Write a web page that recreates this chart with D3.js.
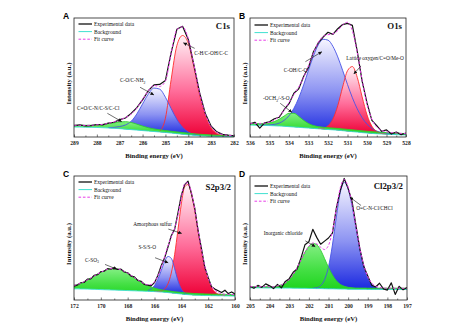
<!DOCTYPE html>
<html lang="en">
<head>
<meta charset="UTF-8">
<title>High-resolution XPS spectra</title>
<script src="https://d3js.org/d3.v7.min.js"></script>
<style>
  body { margin: 0; background: #fff; }
  svg { display: block; }
  text { font-family: "Liberation Serif", "Times New Roman", serif; fill: #111; }
  .panel-letter { font-family: "Liberation Sans", Arial, sans-serif; font-weight: bold; font-size: 8.5px; fill: #000; }
  .core-level { font-weight: bold; font-size: 8.8px; }
  .axis-title { font-weight: bold; font-size: 6.7px; }
  .legend text { font-size: 5.5px; }
  .note { font-size: 5.3px; }
  .x-axis text { font-family: "Liberation Serif", serif; font-size: 5.6px; font-weight: bold; fill: #222; }
  .x-axis line { stroke: #222; stroke-width: 0.6; }
  .x-axis path { display: none; }
  .frame { fill: none; stroke: #222; stroke-width: 0.8; }
</style>
</head>
<body>
<svg width="474" height="326"></svg>
<script>
// C 1s
const energyC1s = [289, 288.75, 288.5, 288.25, 288, 287.75, 287.5, 287.25, 287, 286.75, 286.5, 286.25, 286, 285.75, 285.5,
  285.25, 285, 284.75, 284.5, 284.25, 284, 283.75, 283.5, 283.25, 283, 282.75, 282.5, 282.25, 282];
const ticksC1s = [289, 288, 287, 286, 285, 284, 283, 282];
const expC1s = [9.6, 10.2, 9.4, 9.6, 10.5, 10.2, 11.6, 12.4, 14.6, 16.0, 19.8, 24.6, 31.2, 38.9, 43.8,
  44.2, 47.5, 70.9, 90.5, 93.0, 82.0, 60.2, 36.9, 19.5, 9.0, 4.3, 2.2, 1.5, 1.0];
const bgC1s = [8.4, 8.3, 8.2, 8.1, 8.0, 7.8, 7.6, 7.3, 7.0, 6.6, 6.2, 5.8, 5.4, 5.0, 4.6,
  4.2, 3.8, 3.3, 2.8, 2.3, 1.8, 1.4, 1.0, 0.8, 0.6, 0.5, 0.4, 0.35, 0.3];
const peakC1s_CC = [0, 0, 0, 0, 0, 0, 0, 0, 0, 0, 0, 0, 0, 0, 0,
  0.5, 12, 45, 74, 83, 77, 57, 34, 17, 7, 2.5, 0.8, 0.2, 0];
const peakC1s_CO = [0, 0, 0, 0, 0, 0, 0.3, 0.8, 1.8, 3.5, 7.0, 13.6, 22.4, 31.0, 36.5,
  36.0, 29.6, 20.6, 12.0, 5.9, 2.4, 0.8, 0.2, 0, 0, 0, 0, 0, 0];
const peakC1s_CN = [1.5, 1.5, 1.6, 1.8, 2.2, 2.8, 3.6, 4.6, 5.6, 6.3, 6.0, 5.0, 3.8, 2.8, 2.2,
  1.8, 1.6, 1.5, 1.5, 1.4, 1.4, 1.3, 1.3, 1.2, 1.1, 1.0, 0.9, 0.8, 0.8];

// O 1s
const energyO1s = [536, 535.75, 535.5, 535.25, 535, 534.75, 534.5, 534.25, 534, 533.75, 533.5, 533.25, 533, 532.75, 532.5,
  532.25, 532, 531.75, 531.5, 531.25, 531, 530.75, 530.5, 530.25, 530, 529.75, 529.5, 529.25, 529, 528.75, 528.5, 528.25, 528];
const ticksO1s = [536, 535, 534, 533, 532, 531, 530, 529, 528];
const expO1s = [11.0, 12.4, 7.5, 11.9, 12.8, 15.3, 16.6, 22.9, 28.0, 36.8, 40.6, 50.9, 58.5, 71.5, 79.0,
  84.0, 88.0, 86.2, 91.0, 94.5, 95.5, 93.8, 72.0, 47.0, 28.6, 14.0, 9.5, 4.8, 6.0, 2.5, 4.2, 2.0, 3.2];
const bgO1s = [10.0, 9.9, 9.8, 9.7, 9.6, 9.4, 9.2, 9.0, 8.7, 8.4, 8.1, 7.8, 7.5, 7.2, 6.9,
  6.6, 6.3, 6.0, 5.7, 5.3, 4.9, 4.5, 4.1, 3.7, 3.3, 3.0, 2.7, 2.5, 2.3, 2.1, 2.0, 1.8, 1.7];
const peakO1s_COH = [0, 0, 0.1, 0.2, 0.5, 1.2, 2.5, 5.0, 9.2, 15.7, 24.7, 36.0, 48.7, 60.8, 70.5,
  75.5, 75.1, 70.2, 61.6, 50.7, 39.2, 28.5, 19.5, 12.5, 7.5, 4.3, 2.3, 1.2, 0.6, 0.3, 0.1, 0, 0];
const peakO1s_lattice = [0, 0, 0, 0, 0, 0, 0, 0, 0, 0, 0, 0, 0, 0, 0.2,
  0.8, 3.1, 9.0, 20.6, 36.7, 50.8, 54.7, 46.0, 30.0, 15.3, 6.1, 1.9, 0.4, 0.1, 0, 0, 0, 0];
const peakO1s_OCH3 = [1.5, 1.5, 1.5, 1.7, 2.3, 3.6, 5.8, 8.6, 11.2, 11.5, 9.2, 6.2, 3.8, 2.4, 1.8,
  1.6, 1.5, 1.5, 1.5, 1.5, 1.5, 1.5, 1.5, 1.5, 1.5, 1.5, 1.5, 1.4, 1.4, 1.3, 1.3, 1.2, 1.2];

// S 2p3/2
const energyS2p = [172, 171.75, 171.5, 171.25, 171, 170.75, 170.5, 170.25, 170, 169.75,
  169.5, 169.25, 169, 168.75, 168.5, 168.25, 168, 167.75, 167.5, 167.25,
  167, 166.75, 166.5, 166.25, 166, 165.75, 165.5, 165.25, 165, 164.75,
  164.5, 164.25, 164, 163.75, 163.5, 163.25, 163, 162.75, 162.5, 162.25,
  162, 161.75, 161.5, 161.25, 161, 160.75, 160.5, 160.25, 160];
const ticksS2p = [172, 170, 168, 166, 164, 162, 160];
const expS2p = [11.2, 12.0, 13.9, 14.1, 16.8, 17.1, 19.9, 20.4, 22.9, 23.2,
  25.3, 24.8, 26.1, 24.6, 24.9, 22.6, 22.0, 19.3, 18.6, 15.8,
  15.1, 12.5, 12.0, 11.4, 14.0, 19.8, 27.6, 33.8, 42.5, 51.8,
  57.0, 70.2, 84.5, 93.0, 95.8, 86.0, 74.1, 56.0, 41.5, 26.4,
  18.2, 10.7, 8.8, 7.5, 6.1, 7.9, 5.2, 6.5, 4.8];
const bgS2p = [9.0, 9.0, 8.9, 8.9, 8.8, 8.7, 8.6, 8.5, 8.4, 8.3,
  8.2, 8.1, 8.0, 7.9, 7.8, 7.7, 7.6, 7.5, 7.4, 7.3,
  7.2, 7.1, 7.0, 6.9, 6.8, 6.6, 6.4, 6.2, 6.0, 5.7,
  5.4, 5.1, 4.8, 4.5, 4.3, 4.1, 3.9, 3.8, 3.7, 3.6,
  3.6, 3.5, 3.5, 3.4, 3.4, 3.3, 3.3, 3.2, 3.2];
const peakS2p_amorphous = [0, 0, 0, 0, 0, 0, 0, 0, 0, 0,
  0, 0, 0, 0, 0, 0, 0, 0, 0, 0,
  0, 0, 0, 0, 0.1, 0.3, 0.8, 2.6, 7.0, 16.0,
  31.2, 51.6, 72.7, 86.9, 88.8, 81.5, 68.0, 51.6, 35.6, 22.3,
  12.7, 6.6, 3.1, 1.3, 0.5, 0.2, 0, 0, 0];
const peakS2p_SSO = [0, 0, 0, 0, 0, 0, 0, 0, 0, 0,
  0, 0, 0, 0, 0, 0, 0, 0, 0, 0,
  0, 0, 0.7, 2.0, 4.9, 10.1, 17.3, 24.6, 29.1, 27.9,
  19.9, 10.4, 4.0, 1.1, 0.2, 0, 0, 0, 0, 0,
  0, 0, 0, 0, 0, 0, 0, 0, 0];
const peakS2p_CSO3 = [2.8, 3.6, 4.6, 5.9, 7.4, 9.0, 10.7, 12.4, 14.0, 15.4,
  16.5, 17.2, 17.4, 17.2, 16.5, 15.4, 14.0, 12.4, 10.7, 9.0,
  7.4, 5.9, 4.6, 3.6, 2.8, 2.2, 1.8, 1.5, 1.4, 1.3,
  1.3, 1.3, 1.3, 1.3, 1.3, 1.3, 1.3, 1.3, 1.3, 1.3,
  1.2, 1.2, 1.2, 1.2, 1.2, 1.2, 1.2, 1.2, 1.2];

// Cl 2p3/2
const energyCl2p = [205, 204.8, 204.6, 204.4, 204.2, 204, 203.8, 203.6, 203.4, 203.2,
  203, 202.8, 202.6, 202.4, 202.2, 202, 201.8, 201.6, 201.4, 201.2,
  201, 200.8, 200.6, 200.4, 200.2, 200, 199.8, 199.6, 199.4, 199.2,
  199, 198.8, 198.6, 198.4, 198.2, 198, 197.8, 197.6, 197.4, 197.2, 197];
const ticksCl2p = [205, 204, 203, 202, 201, 200, 199, 198, 197];
const expCl2p = [11.1, 9.4, 11.8, 10.2, 13.0, 11.4, 9.2, 12.6, 9.8, 15.0,
  17.2, 22.4, 25.0, 34.0, 44.5, 47.0, 57.0, 50.5, 45.0, 47.5,
  50.0, 54.0, 74.0, 88.5, 98.0, 90.0, 79.5, 60.0, 41.0, 27.0,
  19.3, 12.0, 10.5, 13.5, 9.0, 8.0, 13.8, 4.5, 11.0, 8.2, 10.0];
const bgCl2p = [9.8, 9.8, 9.8, 9.8, 9.7, 9.7, 9.7, 9.7, 9.6, 9.6,
  9.6, 9.5, 9.5, 9.4, 9.4, 9.3, 9.3, 9.2, 9.2, 9.1,
  9.0, 9.0, 8.9, 8.8, 8.8, 8.7, 8.7, 8.6, 8.6, 8.6,
  8.5, 8.5, 8.5, 8.5, 8.5, 8.5, 8.5, 8.5, 8.5, 8.5, 8.5];
const peakCl2p_organic = [0, 0, 0, 0, 0, 0, 0, 0, 0, 0,
  0, 0, 0, 0, 0, 0, 0.2, 0.7, 2.4, 7.3,
  17.7, 35.3, 58.0, 77.9, 86.0, 80.9, 67.2, 49.4, 32.1, 18.5,
  9.3, 4.2, 1.7, 0.6, 0.2, 0, 0, 0, 0, 0, 0];
const peakCl2p_inorganic = [1.0, 1.0, 1.0, 1.0, 1.0, 1.0, 1.0, 1.7, 2.6, 4.2,
  6.9, 11.0, 16.5, 22.9, 29.1, 34.0, 36.4, 35.4, 31.0, 24.3,
  17.3, 11.2, 6.6, 3.8, 2.3, 1.5, 1.2, 1.0, 1.0, 1.0,
  1.0, 1.0, 1.0, 1.0, 1.0, 1.0, 1.0, 1.0, 1.0, 1.0, 1.0];

const legendLabels = ["Experimental data", "Background", "Fit curve"];

const colors = {
  measured: "#111",
  background: "#3fe0d0",
  fit: "#e83ce8",
  red:   { top: "#fff4f8", mid: "#ff6d9a", bottom: "#ee0036", stroke: "#ff2d2d" },
  blue:  { top: "#f6f5ff", mid: "#8c93f2", bottom: "#1a28e0", stroke: "#4652e6" },
  green: { top: "#84ef84", mid: "#46e046", bottom: "#1ed41e", stroke: "#2fcf2f" }
};

// annotation text anchors and arrow ends, in (eV, intensity)
const notesC1s = [
  { parts: ["C-H/C-OH/C-C"], at: [283.74, 68.9], from: [283.72, 74.5], to: [284.22, 79.2] },
  { parts: ["C-O/C-NH", { sub: "2" }], at: [286.99, 46], from: [286.11, 41.8], to: [285.5, 35.3] },
  { parts: ["C=O/C-N/C-S/C-Cl"], at: [288.87, 22.3], from: [287.54, 19.9], to: [286.91, 12.9] }
];
const notesO1s = [
  { parts: ["C-OH/C-O"], at: [534.27, 54.6], from: [533.16, 63.3], to: [532.31, 71.7] },
  { parts: ["Lattice oxygen/C=O/Me-O"], at: [531.06, 65], from: [530.31, 59.7], to: [530.68, 52.9] },
  { parts: ["-OCH", { sub: "3" }, "/-S-O"], at: [535.33, 30.7], from: [534.45, 28.3], to: [533.85, 20.7] }
];
const notesS2p = [
  { parts: ["Amorphous sulfur"], at: [167.58, 60], from: [164.97, 57.2], to: [163.97, 53.7] },
  { parts: ["S-S/S-O"], at: [167.2, 41.5], from: [165.96, 34.1], to: [164.97, 30] },
  { parts: ["C-SO", { sub: "3" }], at: [171.18, 30.9], from: [169.69, 28.7], to: [168.8, 24.8] }
];
const notesCl2p = [
  { parts: ["O=C-N-Cl/CHCl"], at: [199.59, 72.4], from: [199.34, 76.2], to: [199.91, 82.9] },
  { parts: ["Inorganic chloride"], at: [204.3, 52.8], from: [202.18, 47.7], to: [201.67, 43] }
];

const panels = [
  { letter: "A", level: "C1s", box: { l: 74, r: 234, t: 18, b: 137 },
    energy: energyC1s, ticks: ticksC1s, measured: expC1s, background: bgC1s,
    peaks: [{ values: peakC1s_CC, color: "red" }, { values: peakC1s_CO, color: "blue" }, { values: peakC1s_CN, color: "green" }],
    notes: notesC1s, levelDy: 10.5, legendDy: 6 },
  { letter: "B", level: "O1s", box: { l: 250, r: 406, t: 18, b: 137 },
    energy: energyO1s, ticks: ticksO1s, measured: expO1s, background: bgO1s,
    peaks: [{ values: peakO1s_COH, color: "blue" }, { values: peakO1s_lattice, color: "red" }, { values: peakO1s_OCH3, color: "green" }],
    notes: notesO1s, levelDy: 10.5, legendDy: 7 },
  { letter: "C", level: "S2p3/2", box: { l: 74, r: 235, t: 176, b: 300 },
    energy: energyS2p, ticks: ticksS2p, measured: expS2p, background: bgS2p,
    peaks: [{ values: peakS2p_amorphous, color: "red" }, { values: peakS2p_SSO, color: "blue" }, { values: peakS2p_CSO3, color: "green" }],
    notes: notesS2p, levelDy: 14, legendDy: 6 },
  { letter: "D", level: "Cl2p3/2", box: { l: 250, r: 407, t: 176, b: 300 },
    energy: energyCl2p, ticks: ticksCl2p, measured: expCl2p, background: bgCl2p,
    peaks: [{ values: peakCl2p_organic, color: "blue" }, { values: peakCl2p_inorganic, color: "green" }],
    notes: notesCl2p, levelDy: 12.5, legendDy: 10 }
];

const svg = d3.select("svg");
const defs = svg.append("defs");

["red", "blue", "green"].forEach(name => {
  const c = colors[name];
  const grad = defs.append("linearGradient").attr("id", "fill-" + name)
    .attr("x1", 0).attr("y1", 0).attr("x2", 0).attr("y2", 1);
  grad.append("stop").attr("offset", "0%").attr("stop-color", c.top);
  grad.append("stop").attr("offset", "55%").attr("stop-color", c.mid);
  grad.append("stop").attr("offset", "100%").attr("stop-color", c.bottom);
});

defs.append("marker")
  .attr("id", "arrowhead")
  .attr("viewBox", "0 -3 6 6")
  .attr("refX", 6).attr("refY", 0)
  .attr("markerUnits", "userSpaceOnUse")
  .attr("markerWidth", 3.6).attr("markerHeight", 3.6)
  .attr("orient", "auto")
  .append("path").attr("d", "M0,-3L6,0L0,3Z").attr("fill", "#111");

panels.forEach(p => {
  const { l, r, t, b } = p.box;
  const x = d3.scaleLinear().domain([p.energy[0], p.energy[p.energy.length - 1]]).range([l, r]);
  const y = d3.scaleLinear().domain([0, 100]).range([b, t]);
  const g = svg.append("g");

  defs.append("clipPath").attr("id", "clip-" + p.letter)
    .append("rect").attr("x", l).attr("y", t).attr("width", r - l).attr("height", b - t);
  const plot = g.append("g").attr("clip-path", `url(#clip-${p.letter})`);

  const rows = p.energy.map((e, i) => ({
    e,
    bg: p.background[i],
    meas: p.measured[i],
    fit: p.background[i] + d3.sum(p.peaks, pk => pk.values[i])
  }));

  // component peaks sit on the background
  const peakPts = p.peaks.map(pk => p.energy
    .map((e, i) => ({ e, lo: p.background[i], hi: p.background[i] + pk.values[i], v: pk.values[i] }))
    .filter(d => d.v > 0));

  const area = d3.area().x(d => x(d.e)).y0(d => y(d.lo)).y1(d => y(d.hi)).curve(d3.curveMonotoneX);
  const top = d3.line().x(d => x(d.e)).y(d => y(d.hi)).curve(d3.curveMonotoneX);

  p.peaks.forEach((pk, k) => {
    plot.append("path").datum(peakPts[k])
      .attr("fill", `url(#fill-${pk.color})`)
      .attr("d", area);
  });
  p.peaks.forEach((pk, k) => {
    plot.append("path").datum(peakPts[k])
      .attr("fill", "none")
      .attr("stroke", colors[pk.color].stroke)
      .attr("stroke-width", 0.9)
      .attr("d", top);
  });

  plot.append("path").datum(rows)
    .attr("fill", "none").attr("stroke", colors.background).attr("stroke-width", 0.9)
    .attr("d", d3.line().x(d => x(d.e)).y(d => y(d.bg)).curve(d3.curveMonotoneX));

  plot.append("path").datum(rows)
    .attr("fill", "none").attr("stroke", colors.measured).attr("stroke-width", 1.2)
    .attr("stroke-linejoin", "round")
    .attr("d", d3.line().x(d => x(d.e)).y(d => y(d.meas)));

  plot.append("path").datum(rows)
    .attr("fill", "none").attr("stroke", colors.fit).attr("stroke-width", 1)
    .attr("stroke-dasharray", "2.6,1.8")
    .attr("d", d3.line().x(d => x(d.e)).y(d => y(d.fit)).curve(d3.curveMonotoneX));

  // x axis: labelled majors, unlabelled minors between them
  const minors = d3.pairs(p.ticks).map(([a, c]) => (a + c) / 2);
  g.append("g").attr("class", "x-axis").attr("transform", `translate(0,${b})`)
    .call(d3.axisBottom(x).tickValues(p.ticks).tickSize(-2.5).tickPadding(4.4).tickFormat(d3.format("d")));
  g.append("g").attr("class", "x-axis").attr("transform", `translate(0,${b})`)
    .call(d3.axisBottom(x).tickValues(minors).tickSize(-1.5).tickFormat(""));

  g.append("rect").attr("class", "frame").attr("x", l).attr("y", t).attr("width", r - l).attr("height", b - t);

  g.append("text").attr("class", "axis-title")
    .attr("x", (l + r) / 2).attr("y", b + 20.5).attr("text-anchor", "middle")
    .text("Binding energy (eV)");
  g.append("text").attr("class", "axis-title")
    .attr("transform", `translate(${l - 2.8},${(t + b) / 2 + 6}) rotate(-90)`)
    .attr("text-anchor", "middle")
    .text("Intensity (a.u.)");

  g.append("text").attr("class", "panel-letter").attr("x", l - 11).attr("y", t + 1).text(p.letter);
  g.append("text").attr("class", "core-level")
    .attr("x", r - 4).attr("y", t + p.levelDy).attr("text-anchor", "end").text(p.level);

  // legend
  const legendStyles = [
    { color: colors.measured, width: 1.3, dash: null },
    { color: colors.background, width: 1, dash: null },
    { color: colors.fit, width: 1, dash: "2.6,1.8" }
  ];
  const leg = g.append("g").attr("class", "legend");
  legendLabels.forEach((label, i) => {
    const yy = t + p.legendDy + i * 7.6;
    const s = legendStyles[i];
    leg.append("line").attr("x1", l + 4.5).attr("x2", l + 18).attr("y1", yy).attr("y2", yy)
      .attr("stroke", s.color).attr("stroke-width", s.width).attr("stroke-dasharray", s.dash);
    leg.append("text").attr("x", l + 20).attr("y", yy + 1.9).text(label);
  });

  // peak assignments with arrows
  p.notes.forEach(n => {
    const txt = g.append("text").attr("class", "note").attr("x", x(n.at[0])).attr("y", y(n.at[1]));
    let lowered = false;
    n.parts.forEach(part => {
      const sub = typeof part !== "string";
      const span = txt.append("tspan").text(sub ? part.sub : part);
      if (sub) { span.attr("font-size", 3.8).attr("dy", 1.3); lowered = true; }
      else if (lowered) { span.attr("dy", -1.3); lowered = false; }
    });
    g.append("line")
      .attr("x1", x(n.from[0])).attr("y1", y(n.from[1]))
      .attr("x2", x(n.to[0])).attr("y2", y(n.to[1]))
      .attr("stroke", "#111").attr("stroke-width", 0.6)
      .attr("marker-end", "url(#arrowhead)");
  });
});
</script>
</body>
</html>
